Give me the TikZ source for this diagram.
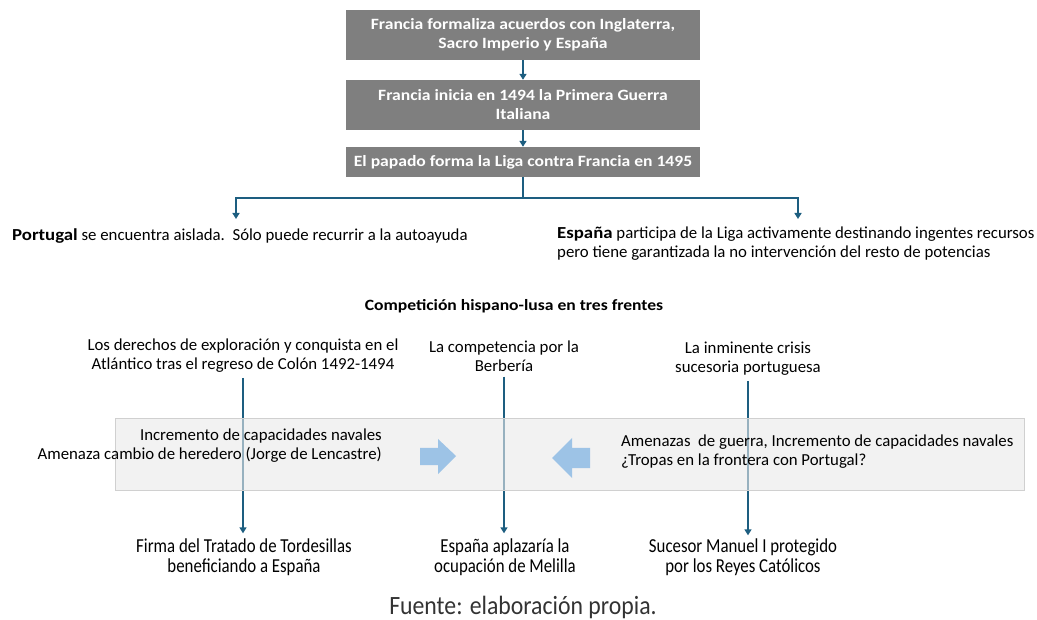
\documentclass[tikz,border=0pt]{standalone}
\usepackage{fontspec}
\setmainfont{Carlito}[BoldFeatures={FakeStretch=1.12}]
\newfontfamily\narrowfont[FakeStretch=0.85]{Carlito}
\newfontfamily\srcfont[FakeStretch=0.9]{Carlito}
\usetikzlibrary{arrows.meta}
\definecolor{boxgray}{HTML}{7F7F7F}
\definecolor{linkblue}{HTML}{1D5E80}
\definecolor{blockblue}{HTML}{9DC3E6}
\definecolor{bandfill}{HTML}{E9E9E9}
\definecolor{bandline}{HTML}{D0D0D0}
\begin{document}
\begin{tikzpicture}[x=1pt,y=-1pt,
 stepbox/.style={fill=boxgray, text=white, font=\fontsize{15.7}{19}\selectfont\bfseries, minimum width=354pt, align=center, inner sep=0pt},
 link/.style={draw=linkblue, line width=2pt, -{Triangle[width=7pt,length=6pt]}},
 body/.style={font=\fontsize{16.8}{19}\selectfont, inner sep=0pt, align=center},
 narrow/.style={font=\narrowfont\fontsize{19.8}{20}\selectfont, inner sep=0pt, align=center},
 band/.style={fill=bandfill, fill opacity=0.6, draw=bandline},
 block/.style={fill=blockblue}
]
\useasboundingbox (0,0) rectangle (1037,620);
% top chain
\node[stepbox, minimum height=50pt] (b1) at (523,35) {Francia formaliza acuerdos con Inglaterra,\\Sacro Imperio y España};
\node[stepbox, minimum height=50pt] (b2) at (523,105) {Francia inicia en 1494 la Primera Guerra\\Italiana};
\node[stepbox, minimum height=30pt] (b3) at (523,162) {El papado forma la Liga contra Francia en 1495};
\draw[link] (b1.south) -- (b2.north);
\draw[link] (b2.south) -- (b3.north);
% branches
\node[body, anchor=west] (port) at (12,236) {\textbf{Portugal} se encuentra aislada.\ \ Sólo puede recurrir a la autoayuda};
\node[body, anchor=north west, align=left] (esp) at (557,227) {\textbf{España} participa de la Liga activamente destinando ingentes recursos\\pero tiene garantizada la no intervención del resto de potencias};
\coordinate (pa) at (236,219);
\coordinate (ea) at (798,219);
\draw[link] (b3.south) -- ++(0,21) -| (pa);
\draw[link] (b3.south) -- ++(0,21) -| (ea);
% title
\node[body, font=\fontsize{15.7}{19}\selectfont\bfseries] (comp) at (514,306) {Competición hispano-lusa en tres frentes};
% fronts
\node[body] (t1) at (243,356) {Los derechos de exploración y conquista en el\\Atlántico tras el regreso de Colón 1492-1494};
\node[body] (t2) at (504,356) {La competencia por la\\Berbería};
\node[body] (t3) at (748,359) {La inminente crisis\\sucesoria portuguesa};
\node[narrow] (r1) at (244,557) {Firma del Tratado de Tordesillas\\beneficiando a España};
\node[narrow] (r2) at (505,557) {España aplazaría la\\ocupación de Melilla};
\node[narrow] (r3) at (743,557) {Sucesor Manuel I protegido\\por los Reyes Católicos};
\draw[link, shorten <=5pt, shorten >=5pt] (t1.south) -- (t1.south |- r1.north);
\draw[link, shorten <=5pt, shorten >=5pt] (t2.south) -- (t2.south |- r2.north);
\draw[link, shorten <=5pt, shorten >=3pt] (t3.south) -- (t3.south |- r3.north);
% band
\path[band] (115,418) rectangle (1024,490);
\node[body, anchor=east, align=right] (lt) at (382,446) {Incremento de capacidades navales\\Amenaza cambio de heredero (Jorge de Lencastre)};
\node[body, anchor=west, align=left] (rt) at (621,452) {Amenazas\ \ de guerra, Incremento de capacidades navales\\¿Tropas en la frontera con Portugal?};
\fill[block] (420,448) -- (438,448) -- (438,439) -- (456,456) -- (438,474) -- (438,465) -- (420,465) -- cycle;
\fill[block] (590,448) -- (572,448) -- (572,438) -- (552,458) -- (572,478) -- (572,468) -- (590,468) -- cycle;
% source
\node[font=\srcfont\fontsize{26.4}{28}\selectfont, text=black!80, inner sep=0pt] (src) at (523,607) {Fuente: elaboración propia.};
\end{tikzpicture}
\end{document}
